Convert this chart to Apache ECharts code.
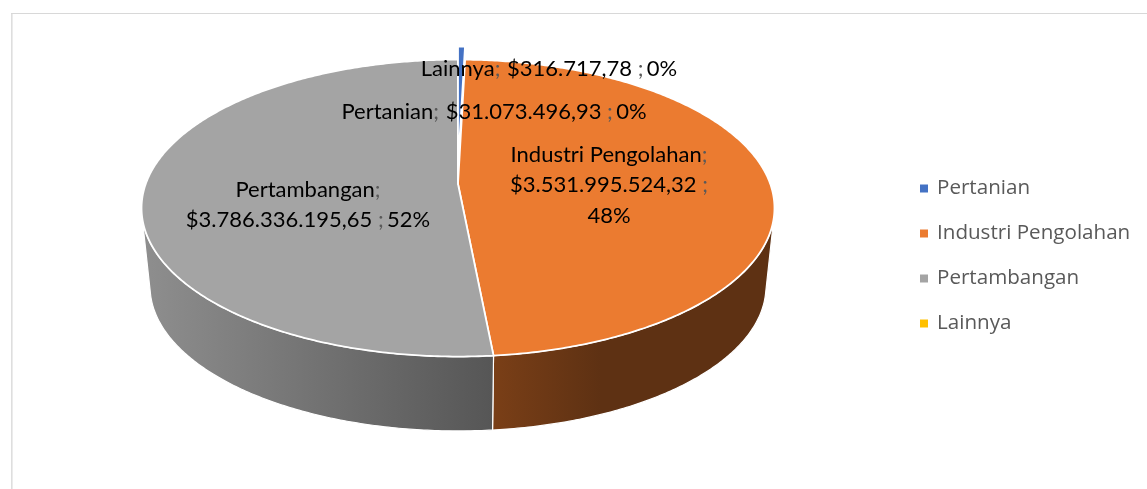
<!DOCTYPE html>
<html>
<head>
<meta charset="utf-8">
<style>html,body{margin:0;padding:0;background:#fff}#main{width:1147px;height:489px}</style>
<script src="https://cdn.jsdelivr.net/npm/echarts@6/dist/echarts.min.js"></script>
</head>
<body>
<div id="main"></div>
<script>
var categories = ['Pertanian', 'Industri Pengolahan', 'Pertambangan', 'Lainnya'];
var values = [31073496.93, 3531995524.32, 3786336195.65, 316717.78];
var colors = ['#4472c4', '#eb7b30', '#a4a4a4', '#ffc000'];
var total = values.reduce(function (a, b) { return a + b; }, 0);

var LABEL_FONT = 'Lato';
var LEGEND_FONT = 'Open Sans';

// perspective of the disc
var cx = 458, apexY = 184, kA = 144.6, kB = 312.3, kP = 0.162;
var wallScale = 0.973, wallShift = 84;

function project(theta, r, lift) {
  var x = r * Math.sin(theta), y = r * Math.cos(theta) + (lift || 0);
  var d = 1 + kP * y;
  return [cx + kB * x / d, apexY - kA * y / d];
}
function lower(p) {
  return [cx + wallScale * (p[0] - cx), p[1] * wallScale + wallShift];
}
function moneyText(v) {
  var parts = v.toFixed(2).split('.');
  return '$' + parts[0].replace(/\B(?=(\d{3})+$)/g, '.') + ',' + parts[1];
}
function arcAngles(a0, a1) {
  var n = Math.max(2, Math.ceil((a1 - a0) / 0.01));
  var out = [];
  for (var i = 0; i <= n; i++) out.push(a0 + (a1 - a0) * i / n);
  return out;
}
function wallPoints(a0, a1) {
  var top = [], low = [];
  arcAngles(a0, a1).forEach(function (t) {
    var p = project(t, 1), q = project(t + 0.01, 1), l = lower(p);
    var c = (q[0] - p[0]) * (l[1] - p[1]) - (q[1] - p[1]) * (l[0] - p[0]);
    if (c < 0) { top.push(p); low.push(l); }
  });
  return top.concat(low.reverse());
}

var wallFill = {
  'Industri Pengolahan': new echarts.graphic.LinearGradient(493, 0, 775, 0, [
    { offset: 0, color: '#7a3f17' }, { offset: 0.38, color: '#5e3113' }, { offset: 1, color: '#5e3113' }
  ], true),
  'Pertambangan': new echarts.graphic.LinearGradient(145, 0, 493, 0, [
    { offset: 0, color: '#8e8e8e' }, { offset: 1, color: '#565656' }
  ], true)
};
var explode = { 'Pertanian': 0.124 };

function sliceSeries(i) {
  var before = values.slice(0, i).reduce(function (a, b) { return a + b; }, 0);
  var name = categories[i];
  return {
    type: 'custom',
    name: name,
    coordinateSystem: 'none',
    silent: true,
    z: name === 'Pertanian' ? 3 : 2,
    itemStyle: { color: colors[i] },
    data: [[before / total, (before + values[i]) / total]],
    renderItem: function (params, api) {
      var a0 = api.value(0) * Math.PI * 2, a1 = api.value(1) * Math.PI * 2;
      var lift = explode[name] || 0;
      var pts = [project(0, 0, lift)];
      arcAngles(a0, a1).forEach(function (t) { pts.push(project(t, 1, lift)); });
      var children = [];
      if (wallFill[name]) {
        children.push({
          type: 'polygon',
          shape: { points: wallPoints(a0, a1) },
          style: { fill: wallFill[name], stroke: '#fff', lineWidth: 1.2 }
        });
      }
      children.push({
        type: 'polygon',
        shape: { points: pts },
        style: { fill: colors[i], stroke: '#fff', lineWidth: 1.8, lineJoin: 'round' }
      });
      return { type: 'group', children: children };
    }
  };
}

// label anchors, same order as categories
var labelX = [494, 609, 308, 549];
var labelY = [112, 185, 205, 69];

function labelText(i) {
  var pct = Math.round(values[i] / total * 100) + '%';
  var m = moneyText(values[i]);
  var c = categories[i];
  if (c === 'Pertambangan') return '{b|' + c + '}{g|;}\n{b|' + m + '}{g| ;} {b|' + pct + '}';
  if (c === 'Industri Pengolahan') return '{b|' + c + '}{g|;}\n{b|' + m + '}{g| ;}\n{b|' + pct + '}';
  return '{b|' + c + '}{g|;}  {b|' + m + '}{g| ;} {b|' + pct + '}';
}

var labelSeries = {
  type: 'custom',
  coordinateSystem: 'none',
  silent: true,
  z: 5,
  data: categories.map(function (c, i) { return [i]; }),
  renderItem: function (params, api) {
    var i = api.value(0);
    return {
      type: 'text',
      style: {
        x: labelX[i],
        y: labelY[i],
        text: labelText(i),
        align: 'center',
        verticalAlign: 'middle',
        rich: {
          b: { fontFamily: LABEL_FONT, fontSize: 22, lineHeight: 30.5, fill: '#000' },
          g: { fontFamily: LABEL_FONT, fontSize: 22, lineHeight: 30.5, fill: '#595959' }
        }
      }
    };
  }
};

var sliceOrder = [1, 2, 3, 0];
var chart = echarts.init(document.getElementById('main'), null, { renderer: 'canvas' });
chart.setOption({
  animation: false,
  backgroundColor: '#fff',
  legend: {
    data: categories,
    orient: 'vertical',
    left: 915,
    top: 173,
    icon: 'rect',
    itemWidth: 8,
    itemHeight: 8,
    itemGap: 24,
    selectedMode: false,
    textStyle: { fontFamily: LEGEND_FONT, fontSize: 20.6, lineHeight: 20, height: 20, color: '#595959', padding: [0, 0, 0, 4] }
  },
  graphic: [
    { type: 'rect', silent: true, shape: { x: 11, y: 13, width: 1.6, height: 476 }, style: { fill: '#dedede' } },
    { type: 'rect', silent: true, shape: { x: 11, y: 13, width: 1136, height: 1 }, style: { fill: '#d8d8d8' } }
  ],
  series: sliceOrder.map(sliceSeries).concat([labelSeries])
});
</script>
</body>
</html>
